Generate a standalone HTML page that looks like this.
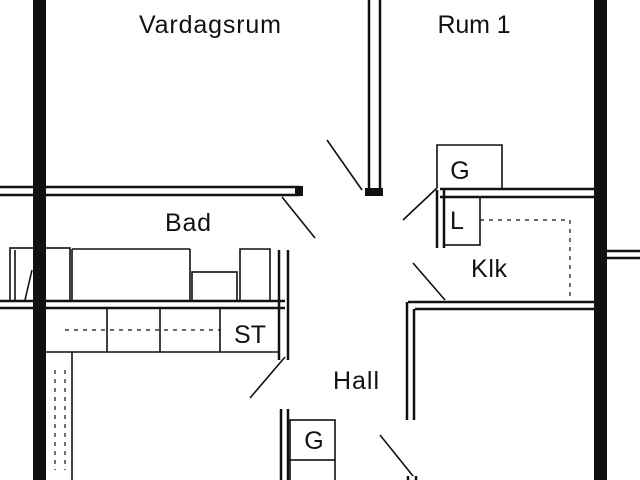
<!DOCTYPE html>
<html><head><style>
html,body{margin:0;padding:0;background:#fff;}
svg{display:block;}
text{font-family:"Liberation Sans",sans-serif;fill:#111;}
</style></head><body>
<svg width="640" height="480" viewBox="0 0 640 480" xmlns="http://www.w3.org/2000/svg">
<g fill="#111">
<rect x="33" y="0" width="13" height="480"/>
<rect x="594" y="0" width="13" height="480"/>
<rect x="365" y="188" width="18" height="8"/>
<rect x="295" y="186" width="8" height="10"/>
</g>
<g stroke="#111" stroke-width="2.5" fill="none">
<line x1="369" y1="0" x2="369" y2="192"/><line x1="380" y1="0" x2="380" y2="192"/>
<line x1="0" y1="187" x2="300" y2="187"/><line x1="0" y1="195" x2="300" y2="195"/>
<line x1="440" y1="189" x2="594" y2="189"/><line x1="440" y1="197" x2="594" y2="197"/>
<line x1="437" y1="190" x2="437" y2="248"/><line x1="444" y1="190" x2="444" y2="248"/>
<line x1="408" y1="302" x2="594" y2="302"/><line x1="415" y1="309" x2="594" y2="309"/>
<line x1="407" y1="302" x2="407" y2="420"/><line x1="414" y1="309" x2="414" y2="420"/>
<line x1="607" y1="251" x2="640" y2="251"/><line x1="607" y1="258" x2="640" y2="258"/>
<line x1="0" y1="301" x2="285" y2="301"/><line x1="0" y1="308" x2="285" y2="308"/>
<line x1="279" y1="250" x2="279" y2="360"/><line x1="288" y1="250" x2="288" y2="360"/>
<line x1="281" y1="409" x2="281" y2="480"/><line x1="288" y1="409" x2="288" y2="480"/>
<line x1="408" y1="476" x2="408" y2="480"/><line x1="416" y1="476" x2="416" y2="480"/>
</g>
<g stroke="#111" stroke-width="1.6" fill="none">
<polyline points="437,188 437,145 502,145 502,188"/>
<rect x="444" y="197" width="36" height="48"/>
<rect x="10" y="248" width="60" height="53"/>
<line x1="15" y1="250" x2="15" y2="300"/>
<line x1="72" y1="249" x2="190" y2="249"/><line x1="72" y1="249" x2="72" y2="301"/>
<line x1="190" y1="249" x2="190" y2="301"/>
<rect x="192" y="272" width="45" height="29"/>
<polyline points="240,301 240,249 270,249 270,301"/>
<line x1="46" y1="352" x2="279" y2="352"/>
<line x1="107" y1="308" x2="107" y2="352"/><line x1="160" y1="308" x2="160" y2="352"/>
<line x1="220" y1="308" x2="220" y2="352"/>
<line x1="72" y1="352" x2="72" y2="480"/>
<rect x="290" y="420" width="45" height="40"/>
<polyline points="290,460 290,480"/><line x1="335" y1="460" x2="335" y2="480"/>
<line x1="327" y1="140" x2="362" y2="190"/>
<line x1="282" y1="197" x2="315" y2="238"/>
<line x1="403" y1="220" x2="437" y2="188"/>
<line x1="413" y1="263" x2="445" y2="300"/>
<line x1="250" y1="398" x2="285" y2="357"/>
<line x1="380" y1="435" x2="413" y2="476"/>
<line x1="25" y1="300" x2="32" y2="270"/>
</g>
<g stroke="#111" stroke-width="1.2" fill="none" stroke-dasharray="4,5">
<line x1="480" y1="220" x2="570" y2="220"/><line x1="570" y1="220" x2="570" y2="300"/>
<line x1="65" y1="330" x2="220" y2="330"/>
<line x1="55" y1="370" x2="55" y2="470"/><line x1="65" y1="370" x2="65" y2="470"/>
</g>
<g font-size="25">
<text x="210" y="33" text-anchor="middle" textLength="142">Vardagsrum</text>
<text x="474" y="33" text-anchor="middle" textLength="73">Rum 1</text>
<text x="188" y="231" text-anchor="middle" textLength="46">Bad</text>
<text x="489" y="277" text-anchor="middle" textLength="36">Klk</text>
<text x="356" y="389" text-anchor="middle" textLength="46">Hall</text>
<text x="250" y="343" text-anchor="middle">ST</text>
<text x="460" y="179" text-anchor="middle">G</text>
<text x="457" y="229" text-anchor="middle">L</text>
<text x="314" y="449" text-anchor="middle">G</text>
</g>
</svg>
</body></html>
